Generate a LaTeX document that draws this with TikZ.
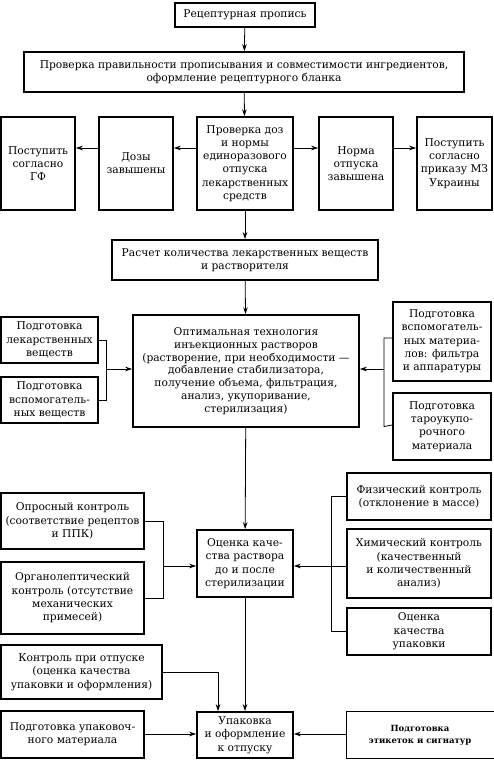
\documentclass[tikz,border=0pt]{standalone}
\usepackage{fontspec}
\setmainfont{DejaVu Serif}
\usetikzlibrary{arrows.meta,calc}
\begin{document}
\begin{tikzpicture}[x=1pt,y=-1pt,
  box/.style={draw, line width=1.6pt, align=center, inner sep=0pt, font=\fontsize{10.7}{13.3}\selectfont},
  arr/.style={line width=0.8pt, -{Stealth[length=7pt,width=4.5pt]}},
  ln/.style={line width=0.8pt}]
\useasboundingbox (0,0) rectangle (493,760);
% row coordinates
\coordinate (yrow) at (0,148);
\coordinate (yopt) at (0,369);
\coordinate (yq) at (0,566);
\coordinate (ypk) at (0,734);
\coordinate (xL1) at (106,0);
\coordinate (xR1) at (384,0);
\coordinate (xL2) at (163,0);
\coordinate (xR2) at (331,0);
\coordinate (xrel) at (218,0);
\coordinate (yrel) at (0,672);
% nodes
\node[box, minimum width=140pt, minimum height=24pt] (top) at (245,15) {Рецептурная пропись};
\node[box, minimum width=440pt, minimum height=40pt] (check) at (244,72) {Проверка правильности прописывания и совместимости ингредиентов,\\ оформление рецептурного бланка};
\node[box, minimum width=96pt, minimum height=93pt] (doses) at (245,163.5) {Проверка доз\\ и нормы\\ единоразового\\ отпуска\\ лекарственных\\ средств};
\node[box, minimum width=74pt, minimum height=93pt] (high) at (136,163.5) {Дозы\\ завышены};
\node[box, minimum width=74pt, minimum height=93pt] (gf) at (38,163.5) {Поступить\\ согласно\\ ГФ};
\node[box, minimum width=74pt, minimum height=93pt] (norm) at (356,163.5) {Норма\\ отпуска\\ завышена};
\node[box, minimum width=75pt, minimum height=93pt] (mz) at (454.5,163.5) {Поступить\\ согласно\\ приказу МЗ\\ Украины};
\node[box, minimum width=266pt, minimum height=40pt] (calc) at (245,260) {Расчет количества лекарственных веществ\\ и растворителя};
\node[box, minimum width=226pt, minimum height=112pt, font=\fontsize{10.7}{12.8}\selectfont] (opt) at (246,371) {Оптимальная технология\\ инъекционных растворов\\ (растворение, при необходимости —\\ добавление стабилизатора,\\ получение объема, фильтрация,\\ анализ, укупоривание,\\ стерилизация)};
\node[box, minimum width=97pt, minimum height=46pt] (lw) at (49.5,340) {Подготовка\\ лекарственных\\ веществ};
\node[box, minimum width=97pt, minimum height=46pt] (aux) at (49.5,400) {Подготовка\\ вспомогатель-\\ ных веществ};
\node[box, minimum width=98pt, minimum height=79pt] (mat) at (442,341.5) {Подготовка\\ вспомогатель-\\ ных материа-\\ лов: фильтра\\ и аппаратуры};
\node[box, minimum width=98pt, minimum height=67pt] (tara) at (442,426.5) {Подготовка\\ тароукупо-\\ рочного\\ материала};
\node[box, minimum width=96pt, minimum height=67pt] (qual) at (245,563.5) {Оценка каче-\\ ства раствора\\ до и после\\ стерилизации};
\node[box, minimum width=143pt, minimum height=56pt] (opros) at (72.5,521) {Опросный контроль\\ (соответствие рецептов\\ и ППК)};
\node[box, minimum width=143pt, minimum height=72pt] (organ) at (72.5,598) {Органолептический\\ контроль (отсутствие\\ механических\\ примесей)};
\node[box, minimum width=144pt, minimum height=47pt] (phys) at (419,496.5) {Физический контроль\\ (отклонение в массе)};
\node[box, minimum width=144pt, minimum height=69pt] (chem) at (419,563.5) {Химический контроль\\ (качественный\\ и количественный\\ анализ)};
\node[box, minimum width=144pt, minimum height=47pt] (pack) at (419,631.5) {Оценка\\ качества\\ упаковки};
\node[box, minimum width=161pt, minimum height=54pt] (release) at (81.5,672) {Контроль при отпуске\\ (оценка качества\\ упаковки и оформления)};
\node[box, minimum width=96pt, minimum height=46pt] (pkg) at (245,735) {Упаковка\\ и оформление\\ к отпуску};
\node[box, minimum width=143pt, minimum height=47pt] (pmat) at (72.5,734.5) {Подготовка упаковоч-\\ ного материала};
\node[box, draw=none, minimum width=146pt, minimum height=46pt, font=\bfseries\fontsize{8.5}{12}\selectfont] (lab) at (420,735) {Подготовка\\ этикеток и сигнатур};
\draw[line width=1.2pt] (lab.north east) -- (lab.north west) -- (lab.south west) -- (lab.south east);
% connectors
\draw[arr] (top) -- (check);
\draw[arr] (check) -- (doses);
\draw[arr] (doses.west |- yrow) -- (high.east |- yrow);
\draw[arr] (high.west |- yrow) -- (gf.east |- yrow);
\draw[arr] (doses.east |- yrow) -- (norm.west |- yrow);
\draw[arr] (norm.east |- yrow) -- (mz.west |- yrow);
\draw[arr] (doses) -- (calc);
\draw[arr] (calc) -- (opt);
\draw[ln] (lw.east) -| (xL1 |- aux.east) -- (aux.east);
\draw[arr] (xL1 |- yopt) -- (opt.west |- yopt);
\draw[ln] (mat.west |- 0,338) -| (xR1 |- tara.west) -- (tara.west |- 0,425);
\draw[arr] (xR1 |- yopt) -- (opt.east |- yopt);
\draw[arr] (opt) -- (qual);
\draw[ln] (opros.east) -| (xL2 |- organ.east) -- (organ.east);
\draw[arr] (xL2 |- yq) -- (qual.west |- yq);
\draw[ln] (phys.west) -| (xR2 |- pack.west) -- (pack.west);
\draw[arr] (chem.west |- yq) -- (qual.east |- yq);
\draw[arr] (qual) -- (pkg);
\draw[arr] (release.east |- yrel) -| (xrel |- pkg.north);
\draw[arr] (pmat.east |- ypk) -- (pkg.west |- ypk);
\draw[arr] (lab.west |- ypk) -- (pkg.east |- ypk);
\end{tikzpicture}
\end{document}
